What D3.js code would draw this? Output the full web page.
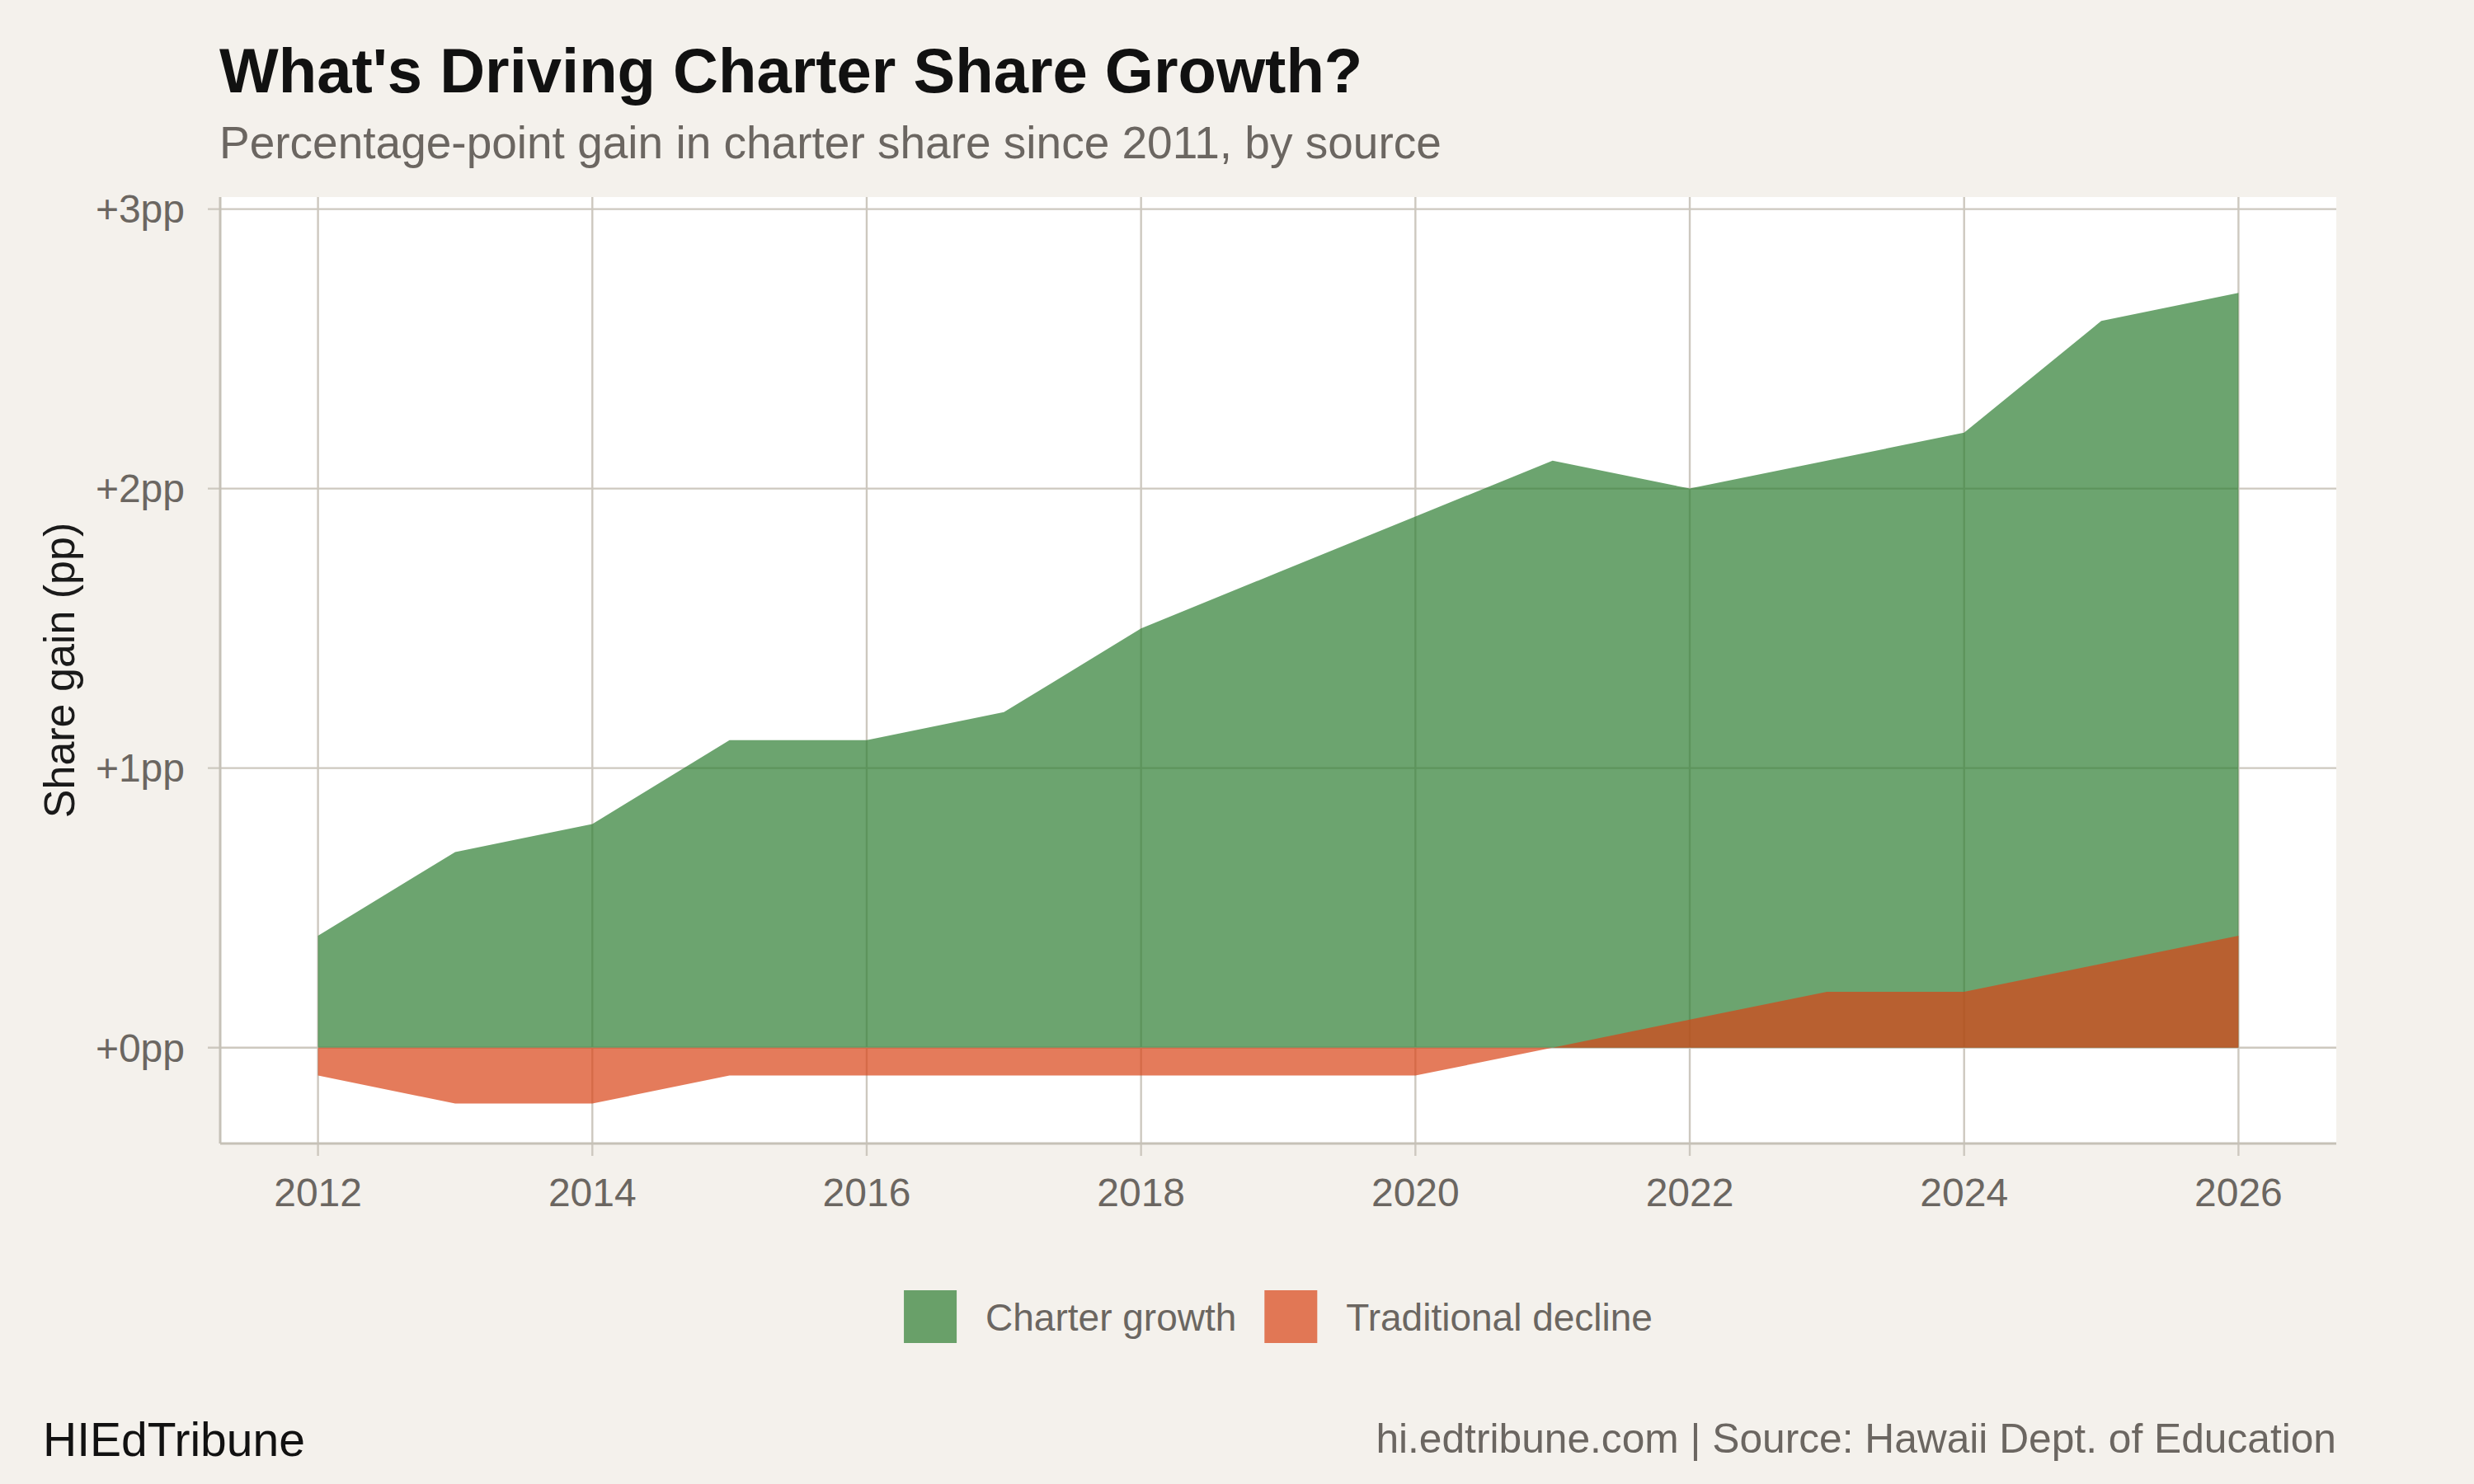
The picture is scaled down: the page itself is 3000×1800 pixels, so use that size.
<!DOCTYPE html>
<html lang="en">
<head>
<title>What's Driving Charter Share Growth?</title>
<meta charset="utf-8">
<script src="https://cdn.jsdelivr.net/npm/d3@7"></script>
<style type="text/css">
  body {
    margin: 0;
    background: #F4F1EC;
    font-family: 'Liberation Sans', Arial, Helvetica, sans-serif;
  }
</style>
</head>
<body>
<div id="chart"></div>
<script>

/* Data */
/* ==== */

var years = [2012, 2013, 2014, 2015, 2016, 2017, 2018, 2019, 2020, 2021, 2022, 2023, 2024, 2025, 2026];
var charterGrowth = [0.4, 0.7, 0.8, 1.1, 1.1, 1.2, 1.5, 1.7, 1.9, 2.1, 2.0, 2.1, 2.2, 2.6, 2.7];
var traditionalDecline = [-0.1, -0.2, -0.2, -0.1, -0.1, -0.1, -0.1, -0.1, -0.1, 0, 0.1, 0.2, 0.2, 0.3, 0.4];
var seriesNames = ['Charter growth', 'Traditional decline'];
var seriesColors = ['#2E7D32', '#D84315'];
var xTicks = [2012, 2014, 2016, 2018, 2020, 2022, 2024, 2026];
var yTicks = [0, 1, 2, 3];


/* Setup */
/* ===== */

var width = 3000,
    height = 1800,
    margin = { top: 239, right: 167, bottom: 413, left: 267 };

var gridColour = '#CDC8BF',
    axisColour = '#C6C1B7',
    greyText = '#6B6661';

var svg = d3.select('#chart').append('svg')
  .attr('width', width)
  .attr('height', height)
  .style('display', 'block');

svg.append('rect')
  .attr('width', width)
  .attr('height', height)
  .attr('fill', '#F4F1EC');

var x = d3.scaleLinear()
  .domain([2011.287, 2026.713])
  .range([margin.left, width - margin.right]);

var y = d3.scaleLinear()
  .domain([-0.343, 3.043])
  .range([height - margin.bottom, margin.top]);

// panel
svg.append('rect')
  .attr('x', margin.left)
  .attr('y', margin.top)
  .attr('width', width - margin.left - margin.right)
  .attr('height', height - margin.top - margin.bottom)
  .attr('fill', '#fff');


/* Grid */
/* ==== */

svg.append('g').selectAll('line')
  .data(yTicks)
  .join('line')
  .attr('x1', margin.left - 15)
  .attr('x2', width - margin.right)
  .attr('y1', function(d) { return y(d); })
  .attr('y2', function(d) { return y(d); })
  .attr('stroke', gridColour)
  .attr('stroke-width', 2.4);

svg.append('g').selectAll('line')
  .data(xTicks)
  .join('line')
  .attr('x1', function(d) { return x(d); })
  .attr('x2', function(d) { return x(d); })
  .attr('y1', margin.top)
  .attr('y2', height - margin.bottom + 15)
  .attr('stroke', gridColour)
  .attr('stroke-width', 2.4);


/* Areas */
/* ===== */

function areaFor(values) {
  return d3.area()
    .x(function(d, i) { return x(years[i]); })
    .y0(y(0))
    .y1(function(d) { return y(d); })(values);
}

svg.append('path')
  .attr('d', areaFor(charterGrowth))
  .attr('fill', seriesColors[0])
  .attr('fill-opacity', 0.7);

svg.append('path')
  .attr('d', areaFor(traditionalDecline))
  .attr('fill', seriesColors[1])
  .attr('fill-opacity', 0.7);


/* Axes */
/* ==== */

svg.append('line')
  .attr('x1', margin.left)
  .attr('x2', margin.left)
  .attr('y1', margin.top)
  .attr('y2', height - margin.bottom)
  .attr('stroke', axisColour)
  .attr('stroke-width', 3);

svg.append('line')
  .attr('x1', margin.left)
  .attr('x2', width - margin.right)
  .attr('y1', height - margin.bottom)
  .attr('y2', height - margin.bottom)
  .attr('stroke', axisColour)
  .attr('stroke-width', 3);

svg.append('g').selectAll('text')
  .data(xTicks)
  .join('text')
  .attr('x', function(d) { return x(d); })
  .attr('y', 1463)
  .attr('text-anchor', 'middle')
  .attr('font-size', 48)
  .attr('fill', greyText)
  .text(function(d) { return d; });

svg.append('g').selectAll('text')
  .data(yTicks)
  .join('text')
  .attr('x', 224)
  .attr('y', function(d) { return y(d); })
  .attr('dy', '0.35em')
  .attr('text-anchor', 'end')
  .attr('font-size', 48)
  .attr('fill', greyText)
  .text(function(d) { return '+' + d + 'pp'; });

svg.append('text')
  .attr('transform', 'translate(90,813) rotate(-90)')
  .attr('text-anchor', 'middle')
  .attr('font-size', 52)
  .attr('fill', '#1a1a1a')
  .text('Share gain (pp)');


/* Titles */
/* ====== */

svg.append('text')
  .attr('x', 266)
  .attr('y', 112)
  .attr('font-size', 76)
  .attr('font-weight', 'bold')
  .attr('fill', '#111')
  .text("What's Driving Charter Share Growth?");

svg.append('text')
  .attr('x', 266)
  .attr('y', 192)
  .attr('font-size', 55)
  .attr('fill', greyText)
  .text('Percentage-point gain in charter share since 2011, by source');


/* Legend */
/* ====== */

var legend = svg.append('g');
var keySize = 64, keyGap = 35, itemGap = 34;
var items = legend.selectAll('g')
  .data(seriesNames)
  .join('g');

items.append('rect')
  .attr('width', keySize)
  .attr('height', keySize)
  .attr('y', 1565)
  .attr('fill', function(d, i) { return seriesColors[i]; })
  .attr('fill-opacity', 0.7);

items.append('text')
  .attr('x', keySize + keyGap)
  .attr('y', 1614)
  .attr('font-size', 46)
  .attr('fill', greyText)
  .text(function(d) { return d; });

var offsets = [], pos = 0;
items.each(function() {
  offsets.push(pos);
  pos += keySize + keyGap + d3.select(this).select('text').node().getComputedTextLength() + itemGap;
});
var legendWidth = pos - itemGap;
var legendStart = (margin.left + width - margin.right) / 2 - legendWidth / 2;
items.attr('transform', function(d, i) { return 'translate(' + (legendStart + offsets[i]) + ',0)'; });


/* Footer */
/* ====== */

svg.append('text')
  .attr('x', 52)
  .attr('y', 1766)
  .attr('font-size', 57)
  .attr('fill', '#111')
  .text('HIEdTribune');

svg.append('text')
  .attr('x', width - margin.right)
  .attr('y', 1762)
  .attr('text-anchor', 'end')
  .attr('font-size', 49.7)
  .attr('fill', greyText)
  .text('hi.edtribune.com | Source: Hawaii Dept. of Education');

</script>
</body>
</html>
